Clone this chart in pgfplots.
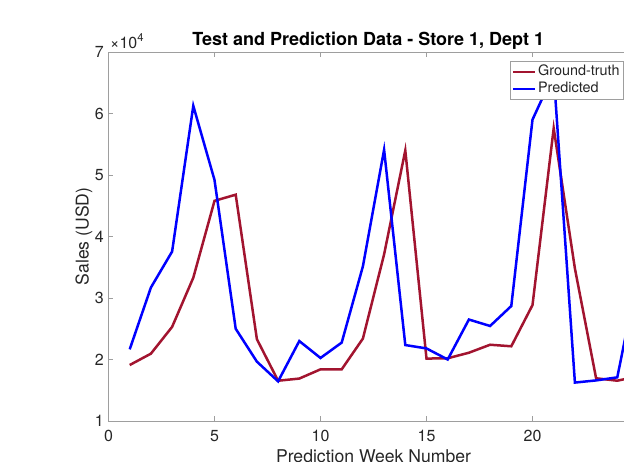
\documentclass[border=0pt]{standalone}
\usepackage{fontspec}
\setmainfont{TeX Gyre Heros}
\usepackage{pgfplots}
\pgfplotsset{compat=1.18}
\definecolor{gtred}{rgb}{0.635,0.078,0.184}
\definecolor{prblue}{rgb}{0,0,1}
\definecolor{axgray}{rgb}{0.62,0.62,0.62}
\definecolor{txt}{rgb}{0.15,0.15,0.15}
\begin{document}
\begin{tikzpicture}
\begin{axis}[
  at={(0pt,0pt)}, anchor=south west,
  scale only axis, width=530pt, height=369pt,
  xmin=0, xmax=25, ymin=10000, ymax=70000,
  xtick={0,5,10,15,20},
  ytick={10000,20000,30000,40000,50000,60000,70000},
  yticklabels={1,2,3,4,5,6,7},
  scaled y ticks=false,
  tick align=inside, major tick length=5pt,
  axis line style={axgray, line width=0.8pt},
  every tick/.style={axgray, line width=0.8pt},
  tick label style={font=\fontsize{16}{19}\selectfont, text=txt},
  /pgf/number format/assume math mode=true,
  xticklabel style={anchor=north, inner sep=0pt, yshift=-9pt},
  yticklabel style={anchor=east, inner sep=0pt, xshift=-4.5pt},
  title={Test and Prediction Data - Store 1, Dept 1},
  title style={at={(axis description cs:0.49,1)}, anchor=base, yshift=1pt, inner sep=0pt, font=\bfseries\fontsize{18}{21}\selectfont, text=black},
  xlabel={Prediction Week Number},
  xlabel style={at={(axis description cs:0.5,0)}, anchor=north, inner sep=0pt, yshift=-28pt, font=\fontsize{17.6}{20}\selectfont, text=txt},
  ylabel={Sales (USD)},
  ylabel style={at={(axis description cs:-0.0377,0.5)}, anchor=base, inner sep=0pt, font=\fontsize{17.6}{20}\selectfont, text=txt},
  legend style={at={(axis description cs:0.757,0.976)}, anchor=north west, draw=axgray, line width=0.8pt, fill=white, inner xsep=2pt, inner ysep=2pt, font=\fontsize{14.4}{17}\selectfont, text=txt, nodes={inner sep=1.5pt, text height=11pt, text depth=3pt}, row sep=0pt},
  legend cell align=left,
  legend image code/.code={\draw[#1] (0pt,0pt) -- (22pt,0pt);},
  after end axis/.code={\node[anchor=base west, inner sep=0pt, xshift=1.5pt, yshift=4pt, font=\fontsize{16}{19}\selectfont, text=txt] at (rel axis cs:0,1) {×10\textsuperscript{4}};},
]
\addplot[gtred, line width=2.5pt] coordinates {
(1,19100)(2,20950)(3,25300)(4,33300)(5,45800)(6,46800)(7,23300)(8,16550)(9,16900)(10,18400)(11,18400)(12,23400)(13,37100)(14,54000)(15,20150)(16,20200)(17,21100)(18,22400)(19,22150)(20,28850)(21,57600)(22,34800)(23,16950)(24,16550)(25,17300)
};
\addlegendentry{Ground-truth}
\addplot[prblue, line width=2.5pt] coordinates {
(1,21650)(2,31700)(3,37550)(4,61250)(5,49200)(6,25000)(7,19650)(8,16450)(9,23000)(10,20250)(11,22750)(12,35150)(13,54100)(14,22350)(15,21800)(16,20000)(17,26500)(18,25450)(19,28700)(20,59000)(21,66500)(22,16250)(23,16600)(24,17100)(25,34300)
};
\addlegendentry{Predicted}
\end{axis}
\pgfresetboundingbox
\useasboundingbox (-108.5pt,-40pt) rectangle (515.5pt,421pt);
\end{tikzpicture}
\end{document}
